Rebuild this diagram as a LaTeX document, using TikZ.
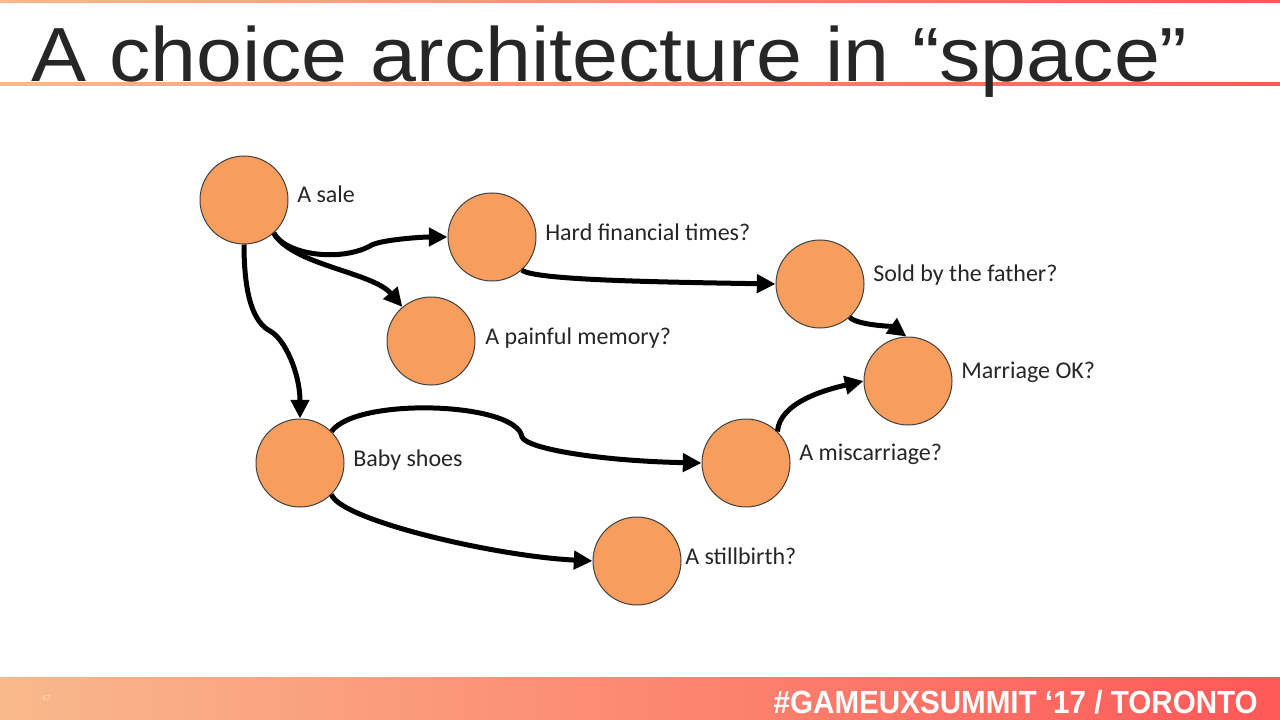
\documentclass[tikz,border=0pt]{standalone}
\usepackage{fontspec}
\setmainfont{Carlito}
\newfontfamily\titlefont{Liberation Sans}
\usepackage{graphicx}
\usepackage{tikz}
\usetikzlibrary{arrows.meta}

\definecolor{barleft}{RGB}{249,185,139}
\definecolor{barright}{RGB}{255,88,88}
\definecolor{nodeorange}{RGB}{247,157,94}
\definecolor{nodeline}{RGB}{64,64,64}
\definecolor{titlegrey}{RGB}{38,38,38}
\definecolor{pagenum}{RGB}{252,214,186}

\begin{document}
\begin{tikzpicture}[x=0.75pt,y=0.75pt,yscale=-1,xscale=1,
  state/.style={circle,fill=nodeorange,draw=nodeline,line width=0.75pt,minimum size=66pt,inner sep=0pt},
  lbl/.style={anchor=base west,inner sep=0pt,font=\fontsize{18}{21}\selectfont,text=titlegrey},
  link/.style={line width=3.75pt,-{Triangle[length=14pt,width=13.5pt]}}]
\useasboundingbox (0,0) rectangle (1280,720);

%Bars
\shade[left color=barleft,right color=barright] (0,0) rectangle (1280,3);
\shade[left color=barleft,right color=barright] (0,83) rectangle (1280,86);
\shade[left color=barleft,right color=barright] (0,677) rectangle (1280,720);

% Text Node
\node (title) at (31,82) [anchor=base west,inner sep=0pt,text=titlegrey]
  {\scalebox{1.075}[1]{\titlefont\fontsize{57.6}{60}\selectfont A choice architecture in “space”}};
% Text Node
\node (tag) at (1258,713) [anchor=base east,inner sep=0pt,text=white]
  {\scalebox{0.925}[1]{\titlefont\bfseries\fontsize{24}{26}\selectfont \#GAMEUXSUMMIT ‘17 / TORONTO}};
% Text Node
\node (num) at (41,701) [anchor=base west,inner sep=0pt,text=pagenum,font=\fontsize{7}{8}\selectfont] {47};

%Shape: Circle
\node (sale) at (244,200) [state] {};
\node (hard) at (492,237) [state] {};
\node (painful) at (431,341) [state] {};
\node (sold) at (820,284) [state] {};
\node (marriage) at (908,381) [state] {};
\node (baby) at (300,463) [state] {};
\node (misc) at (746,463) [state] {};
\node (still) at (637,561) [state] {};

% Text Node
\node (lsale) at (297,203) [lbl] {A sale};
\node (lhard) at (545,240) [lbl] {Hard financial times?};
\node (lpainful) at (485,344) [lbl] {A painful memory?};
\node (lsold) at (873,281) [lbl] {Sold by the father?};
\node (lmarriage) at (961,378) [lbl] {Marriage OK?};
\node (lbaby) at (353,466) [lbl] {Baby shoes};
\node (lmisc) at (799,460) [lbl] {A miscarriage?};
\node (lstill) at (685,564) [lbl] {A stillbirth?};

%Curve Lines
\coordinate (kinka) at (370,246);
\coordinate (kinkb) at (522,437);
\coordinate (kinkc) at (270,331);
\draw [link] (sale.-48) .. controls +(12,22) and +(-30,16) .. (kinka) .. controls +(8,-6) and +(-27,0) .. (hard.180);
\draw [link] (sale.-48) .. controls +(18,32) and +(-30,-35) .. (painful.130);
\draw [link] (sale.-90) .. controls +(0,55) and +(-15,-8) .. (kinkc) .. controls +(15,8) and +(0,-45) .. (baby.90);
\draw [link] (hard.-48) .. controls +(12,10) and +(-120,-2) .. (sold.180);
\draw [link] (sold.-48) .. controls +(6,8) and +(-14,-10) .. (marriage.92);
\draw [link] (baby.45) .. controls +(25,-35) and +(-5,-35) .. (kinkb) .. controls +(5,12) and +(-100,-2) .. (misc.180);
\draw [link] (baby.-45) .. controls +(8,25) and +(-100,-5) .. (still.180);
\draw [link] (misc.45) .. controls +(2,-30) and +(-35,8) .. (marriage.180);

\end{tikzpicture}
\end{document}
